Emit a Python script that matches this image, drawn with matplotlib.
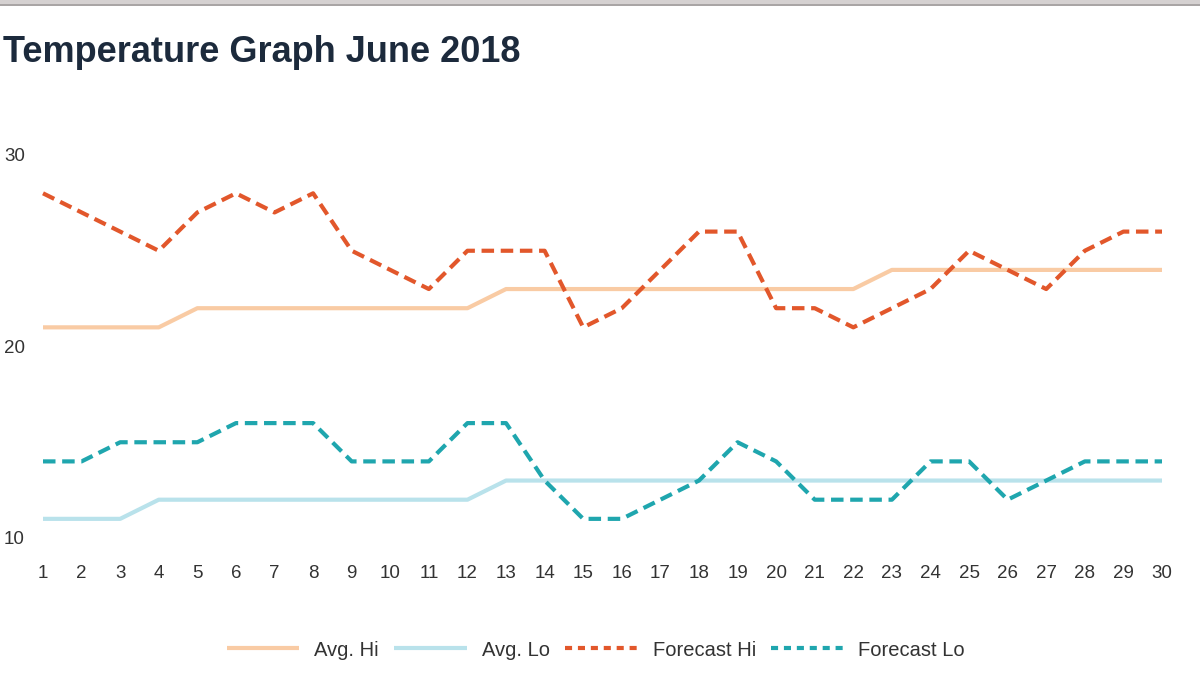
import matplotlib
matplotlib.use("Agg")
import matplotlib.pyplot as plt
from matplotlib.lines import Line2D
from matplotlib.patches import Rectangle

plt.rcParams['font.family'] = ['Liberation Sans', 'DejaVu Sans']

days = list(range(1, 31))
avg_hi = [21, 21, 21, 21, 22, 22, 22, 22, 22, 22, 22, 22, 23, 23, 23,
          23, 23, 23, 23, 23, 23, 23, 24, 24, 24, 24, 24, 24, 24, 24]
avg_lo = [11, 11, 11, 12, 12, 12, 12, 12, 12, 12, 12, 12, 13, 13, 13,
          13, 13, 13, 13, 13, 13, 13, 13, 13, 13, 13, 13, 13, 13, 13]
forecast_hi = [28, 27, 26, 25, 27, 28, 27, 28, 25, 24, 23, 25, 25, 25, 21,
               22, 24, 26, 26, 22, 22, 21, 22, 23, 25, 24, 23, 25, 26, 26]
forecast_lo = [14, 14, 15, 15, 15, 16, 16, 16, 14, 14, 14, 16, 16, 13, 11,
               11, 12, 13, 15, 14, 12, 12, 12, 14, 14, 12, 13, 14, 14, 14]
yticks = [10, 20, 30]
series_names = ["Avg. Hi", "Avg. Lo", "Forecast Hi", "Forecast Lo"]
title = "Temperature Graph June 2018"

c_avg_hi = "#f9cba4"
c_avg_lo = "#b9e2eb"
c_fc_hi = "#e2572b"
c_fc_lo = "#1fa6ae"
text_c = "#333333"

W, H = 1200, 675
fig = plt.figure(figsize=(12, 6.75), dpi=100)
ax = fig.add_axes([43 / W, (H - 538) / H, 1119 / W, 383 / H])

lw = 3.0
ax.plot(days, avg_hi, color=c_avg_hi, lw=lw, solid_capstyle='butt', clip_on=False)
ax.plot(days, avg_lo, color=c_avg_lo, lw=lw, solid_capstyle='butt', clip_on=False)
ax.plot(days, forecast_hi, color=c_fc_hi, lw=lw, dashes=(3.0, 1.6),
        dash_capstyle='butt', clip_on=False)
ax.plot(days, forecast_lo, color=c_fc_lo, lw=lw, dashes=(3.0, 1.6),
        dash_capstyle='butt', clip_on=False)

ax.set_xlim(1, 30)
ax.set_ylim(10, 30)
ax.set_xticks(days)
ax.set_xticklabels([str(d) for d in days])
ax.set_yticks(yticks)
ax.set_yticklabels([str(v) for v in yticks])
ax.tick_params(axis='both', length=0, labelsize=13.5, colors=text_c)
ax.tick_params(axis='y', pad=13)
ax.tick_params(axis='x', pad=19.5)
for s in ax.spines.values():
    s.set_visible(False)

handles = [
    Line2D([], [], color=c_avg_hi, lw=lw, solid_capstyle='butt'),
    Line2D([], [], color=c_avg_lo, lw=lw, solid_capstyle='butt'),
    Line2D([], [], color=c_fc_hi, lw=lw, dashes=(1.7, 1.4), dash_capstyle='butt'),
    Line2D([], [], color=c_fc_lo, lw=lw, dashes=(1.7, 1.4), dash_capstyle='butt'),
]
leg = fig.legend(handles, series_names, loc='center', ncol=4,
                 bbox_to_anchor=(596 / W, 1 - 650 / H), frameon=False,
                 fontsize=14.5, handlelength=3.6, handletextpad=0.75,
                 columnspacing=0.75)
for t in leg.get_texts():
    t.set_color(text_c)

fig.text(3 / W, 1 - 62 / H, title, fontsize=26, fontweight='bold',
         color="#1c2a3c", ha='left', va='baseline')

# top grey bar
fig.add_artist(Rectangle((0, 1 - 4 / H), 1, 4 / H, transform=fig.transFigure,
                         facecolor="#d5d1d1", edgecolor='none'))
fig.add_artist(Rectangle((0, 1 - 6 / H), 1, 2 / H, transform=fig.transFigure,
                         facecolor="#a9a5a5", edgecolor='none'))

fig.savefig("out.png", dpi=100)
